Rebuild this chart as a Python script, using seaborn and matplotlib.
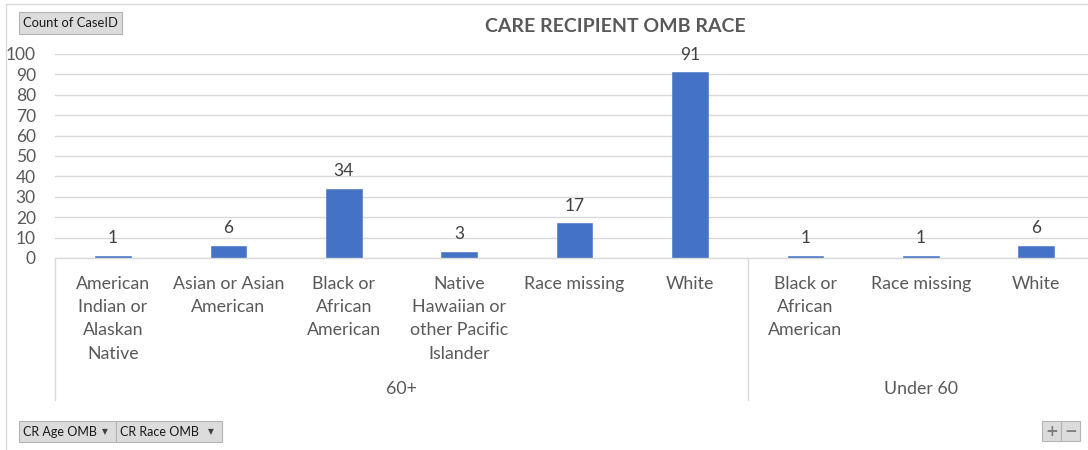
import matplotlib
matplotlib.use("Agg")
import matplotlib.pyplot as plt
import matplotlib.transforms as mtransforms
from matplotlib.patches import Rectangle
from matplotlib.lines import Line2D
import seaborn as sns
import pandas as pd

# Pivot-chart data: care recipients by age group and OMB race
age_groups = ["60+", "60+", "60+", "60+", "60+", "60+", "Under 60", "Under 60", "Under 60"]
races = [
    "American Indian or Alaskan Native",
    "Asian or Asian American",
    "Black or African American",
    "Native Hawaiian or other Pacific Islander",
    "Race missing",
    "White",
    "Black or African American",
    "Race missing",
    "White",
]
race_labels = [
    "American\nIndian or\nAlaskan\nNative",
    "Asian or Asian\nAmerican",
    "Black or\nAfrican\nAmerican",
    "Native\nHawaiian or\nother Pacific\nIslander",
    "Race missing",
    "White",
    "Black or\nAfrican\nAmerican",
    "Race missing",
    "White",
]
counts = [1, 6, 34, 3, 17, 91, 1, 1, 6]
group_names = ["60+", "Under 60"]
y_ticks = [0, 10, 20, 30, 40, 50, 60, 70, 80, 90, 100]

df = pd.DataFrame({"age": age_groups, "race": races, "count": counts})
df["slot"] = df["age"] + " / " + df["race"]

sns.set_theme(style="white")
plt.rcParams["font.family"] = ["Lato", "DejaVu Sans"]

TEXT = "#595959"
GRID = "#d9d9d9"
BAR = "#4472C4"

W, H = 1088, 450
fig = plt.figure(figsize=(W / 100, H / 100), dpi=100)

# plot area in pixel units
x0_px, x1_px, ytop_px, ybot_px = 55.3, 1088, 54, 258
slot_px = 115.4
ax = fig.add_axes([x0_px / W, 1 - ybot_px / H, (x1_px - x0_px) / W, (ybot_px - ytop_px) / H])

sns.barplot(data=df, x="slot", y="count", order=list(df["slot"]), color=BAR,
            width=0.31, ax=ax, saturation=1, edgecolor=BAR, linewidth=0.4)
ax.set_xlim(-0.5, -0.5 + (x1_px - x0_px) / slot_px)
ax.set_ylim(0, 100)
ax.set_yticks(y_ticks)
ax.set_yticklabels([str(v) for v in y_ticks], fontsize=12.5, color=TEXT)
ax.yaxis.grid(True, color=GRID, linewidth=1)
ax.set_axisbelow(True)
for s in ["top", "right", "left"]:
    ax.spines[s].set_visible(False)
ax.spines["bottom"].set_color(GRID)
ax.spines["bottom"].set_linewidth(1)
ax.tick_params(axis="y", length=0, pad=14)
ax.tick_params(axis="x", length=0, pad=13)
ax.set_xticks(range(len(race_labels)))
ax.set_xticklabels(race_labels, fontsize=12.8, color=TEXT, linespacing=1.55, va="top")
ax.set_xlabel("")
ax.set_ylabel("")

ax.bar_label(ax.containers[0], labels=[str(c) for c in counts], padding=7,
             fontsize=12.5, color="#404040")

# group separators and group labels below the category axis
trans = mtransforms.blended_transform_factory(ax.transData, ax.transAxes)
bottom_axes = -(400 - ybot_px) / (ybot_px - ytop_px)
group_y = -(389 - ybot_px) / (ybot_px - ytop_px)
bounds = [-0.5, 5.5, 8.5]
for b in bounds[:2]:
    ax.add_line(Line2D([b, b], [0, bottom_axes], transform=trans, color=GRID,
                       linewidth=1, clip_on=False))
for i, name in enumerate(group_names):
    ax.text((bounds[i] + bounds[i + 1]) / 2, group_y, name, transform=trans,
            ha="center", va="center", fontsize=12.8, color=TEXT)

# title
fig.text(615 / W, 1 - 26 / H, "CARE RECIPIENT OMB RACE", ha="center", va="center",
         fontsize=14, fontweight="bold", color=TEXT)

# chart frame
fig.add_artist(Line2D([6 / W, 6 / W], [0, 1 - 4 / H], color=GRID, linewidth=1))
fig.add_artist(Line2D([6 / W, 1], [1 - 4 / H, 1 - 4 / H], color=GRID, linewidth=1))


def button(x, y, w, h, label=None, arrow=False, fs=9.0):
    fig.add_artist(Rectangle((x / W, 1 - (y + h) / H), w / W, h / H,
                             facecolor="#dcdcdc", edgecolor="#b4b4b4", linewidth=0.8))
    if label is not None:
        fig.text((x + 4) / W, 1 - (y + h / 2) / H, label, ha="left", va="center",
                 fontsize=fs, color="#1a1a1a")
    if arrow:
        fig.text((x + w - 11) / W, 1 - (y + h / 2) / H, "\u25BC", ha="center", va="center",
                 fontsize=5.5, color="#404040", family="DejaVu Sans")


button(19, 12, 103, 22, "Count of CaseID", fs=9.4)
button(19, 421, 97, 21, "CR Age OMB", arrow=True)
button(116, 421, 106, 21, "CR Race OMB", arrow=True)
button(1042, 421, 19, 20)
button(1061, 421, 19, 20)
fig.text(1051.5 / W, 1 - 431 / H, "+", ha="center", va="center", fontsize=11,
         color="#7f7f7f", fontweight="bold", family="DejaVu Sans")
fig.text(1070.5 / W, 1 - 431 / H, "\u2212", ha="center", va="center", fontsize=11,
         color="#7f7f7f", fontweight="bold", family="DejaVu Sans")

fig.savefig("out.png", dpi=100)
